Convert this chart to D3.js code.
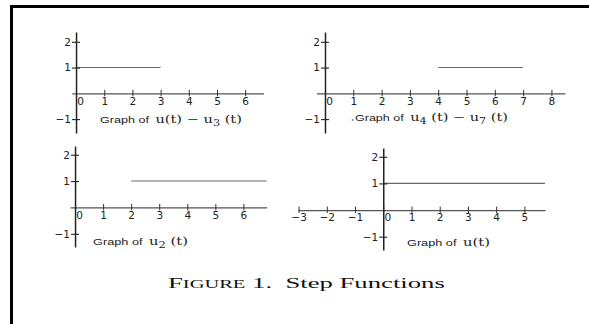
<!DOCTYPE html>
<html>
<head>
<meta charset="utf-8">
<script src="https://cdn.jsdelivr.net/npm/d3@7"></script>
<style>
  html, body { margin: 0; padding: 0; background: #fff; }
  svg { display: block; }
</style>
</head>
<body>
<svg id="fig" width="589" height="324"></svg>
<script>
// Tick values for each of the four step-function panels
const xTicksA = [0, 1, 2, 3, 4, 5, 6];
const xTicksB = [0, 1, 2, 3, 4, 5, 6, 7, 8];
const xTicksC = [0, 1, 2, 3, 4, 5, 6];
const xTicksD = [-3, -2, -1, 0, 1, 2, 3, 4, 5];
const yTicks = [-1, 1, 2];

// Domains of the visible axes
const xDomainA = [-0.15, 6.65];
const xDomainB = [-0.3, 8.48];
const xDomainC = [-0.18, 6.83];
const xDomainD = [-3.02, 5.73];
const yDomainAB = [-1.54, 2.38];
const yDomainCD = [-1.5, 2.33];

// Where each function equals 1: [start, end, value]
const stepA = [[0, 3, 1]];
const stepB = [[4, 7, 1]];
const stepC = [[2, 6.83, 1]];
const stepD = [[0, 5.73, 1]];

// Caption pieces: [text, isSubscript]
const labelA = [["u(t) − u", 0], ["3", 1], [" (t)", 0]];
const labelB = [["u", 0], ["4", 1], [" (t) − u", 0], ["7", 1], [" (t)", 0]];
const labelC = [["u", 0], ["2", 1], [" (t)", 0]];
const labelD = [["u(t)", 0]];

const figureTitle = "Step Functions";

const svg = d3.select("#fig");

// Page frame: heavy top rule and left rule
svg.append("line").attr("x1", 10).attr("x2", 589).attr("y1", 6.5).attr("y2", 6.5)
  .attr("stroke", "#000").attr("stroke-width", 3);
svg.append("line").attr("x1", 11.5).attr("x2", 11.5).attr("y1", 5).attr("y2", 324)
  .attr("stroke", "#000").attr("stroke-width", 3);

const panels = [
  { xTicks: xTicksA, xDom: xDomainA, xRange: [71.8, 263.5], yDom: yDomainAB, yRange: [133, 32],
    steps: stepA, label: labelA, lx: 100, ly: 123, lw: 142, dot: false },
  { xTicks: xTicksB, xDom: xDomainB, xRange: [316.5, 565], yDom: yDomainAB, yRange: [133, 32],
    steps: stepB, label: labelB, lx: 355, ly: 121, lw: 153, dot: true },
  { xTicks: xTicksC, xDom: xDomainC, xRange: [70, 266.7], yDom: yDomainCD, yRange: [247, 146],
    steps: stepC, label: labelC, lx: 93, ly: 245, lw: 95, dot: false },
  { xTicks: xTicksD, xDom: xDomainD, xRange: [298, 545], yDom: yDomainCD, yRange: [250, 148],
    steps: stepD, label: labelD, lx: 407, ly: 246, lw: 83, dot: false }
];

const tickFont = "'DejaVu Sans', sans-serif";

// stretch a text group horizontally so it spans the given width
function fitWidth(sel, x0, y0, width) {
  const w = sel.node().getComputedTextLength();
  sel.attr("transform", `translate(${x0},${y0}) scale(${width / w},1)`);
}

panels.forEach(p => {
  const x = d3.scaleLinear().domain(p.xDom).range(p.xRange);
  const y = d3.scaleLinear().domain(p.yDom).range(p.yRange);
  const g = svg.append("g");

  // step function at value 1
  g.selectAll("line.step").data(p.steps).join("line")
    .attr("class", "step")
    .attr("x1", d => x(d[0])).attr("x2", d => x(d[1]))
    .attr("y1", d => y(d[2])).attr("y2", d => y(d[2]))
    .attr("stroke", "#6a6a6a").attr("stroke-width", 1.1);

  // horizontal axis (t)
  const xAxis = d3.axisBottom(x).tickValues(p.xTicks).tickSize(0)
    .tickFormat(d => d < 0 ? "−" + Math.abs(d) : String(d));
  const gx = g.append("g").attr("transform", `translate(0,${y(0)})`).call(xAxis);
  gx.select(".domain").attr("stroke", "#555").attr("stroke-width", 1.2);
  gx.selectAll(".tick line").remove();
  gx.selectAll(".tick").append("line")
    .attr("y1", -3.5).attr("y2", 3).attr("stroke", "#333").attr("stroke-width", 1);
  gx.selectAll(".tick text")
    .attr("dy", "0.9em").attr("y", 2)
    .attr("dx", d => d === 0 ? 4 : 0)
    .attr("font-family", tickFont).attr("font-size", 10.5).attr("fill", "#222");

  // vertical axis
  const yAxis = d3.axisLeft(y).tickValues(yTicks).tickSize(0)
    .tickFormat(d => d < 0 ? "−" + Math.abs(d) : String(d));
  const gy = g.append("g").attr("transform", `translate(${x(0)},0)`).call(yAxis);
  gy.select(".domain").attr("stroke", "#222").attr("stroke-width", 1.5);
  gy.selectAll(".tick line").remove();
  gy.selectAll(".tick").append("line")
    .attr("x1", -4).attr("x2", 4).attr("stroke", "#222").attr("stroke-width", 1.1);
  gy.selectAll(".tick text")
    .attr("x", -5)
    .attr("font-family", tickFont).attr("font-size", 10.5).attr("fill", "#222");

  // panel caption
  if (p.dot) {
    g.append("circle").attr("cx", p.lx - 2.5).attr("cy", p.ly - 1).attr("r", 0.8).attr("fill", "#444");
  }
  const t = g.append("text").attr("fill", "#222");
  t.append("tspan").text("Graph of ")
    .attr("font-family", "'Liberation Sans', Arial, sans-serif").attr("font-size", 9.5);
  t.append("tspan").text("\u00a0").attr("font-size", 9);
  let shifted = 0;
  p.label.forEach(([s, sub]) => {
    const dy = sub ? 3 - shifted : -shifted;
    shifted = sub ? 3 : 0;
    t.append("tspan").text(s.replace(/ /g, "\u00a0"))
      .attr("dy", dy)
      .attr("font-family", "'DejaVu Serif', serif")
      .attr("font-size", sub ? 8.5 : 11);
  });
  fitWidth(t, p.lx, p.ly, p.lw);
});

// figure title in small caps
const title = svg.append("text")
  .attr("font-family", "'Liberation Serif', 'DejaVu Serif', serif")
  .attr("fill", "#111");
title.append("tspan").text("F").attr("font-size", 15);
title.append("tspan").text("IGURE").attr("font-size", 11.5);
title.append("tspan").text("\u00a01.\u00a0\u00a0" + figureTitle).attr("font-size", 15);
fitWidth(title, 168, 287.5, 277);
</script>
</body>
</html>
